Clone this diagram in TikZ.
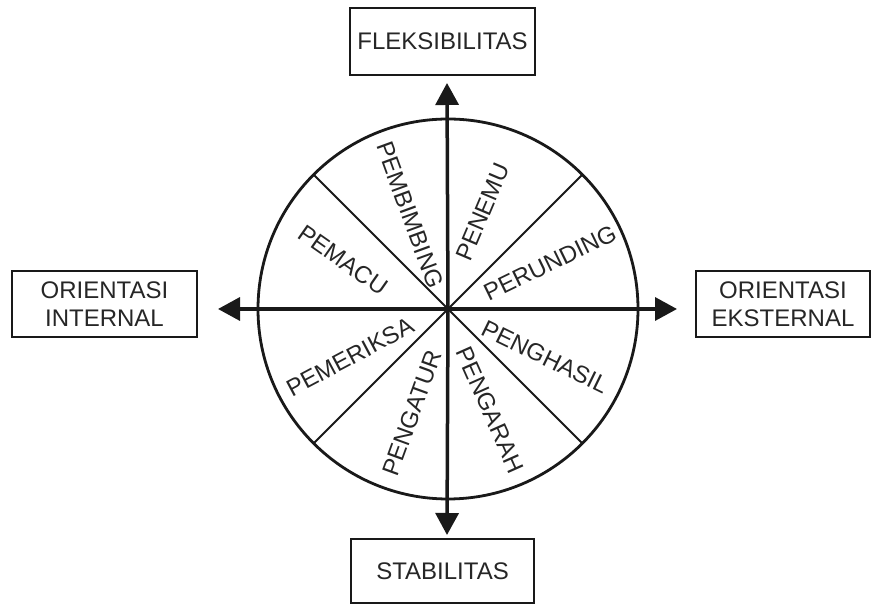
\documentclass[tikz,border=0pt]{standalone}
\usepackage{fontspec}
\setmainfont{Liberation Sans}
\usetikzlibrary{arrows.meta,calc}
\begin{document}
\begin{tikzpicture}[x=1pt,y=1pt,
  box/.style={draw=black!90,line width=2.6pt,align=center,inner sep=0pt,
    font=\fontsize{24}{28}\selectfont,text=black!85},
  axis/.style={line width=3.5pt,draw=black!90,-{Triangle[length=22pt,width=23pt]}},
  rim/.style={line width=2.8pt,draw=black!90},
  spoke/.style={line width=1.8pt,draw=black!90},
  lbl/.style={font=\fontsize{24}{26}\selectfont,text=black!85,inner sep=0pt}]
\useasboundingbox (0,0) rectangle (872,604);
\coordinate (O) at (448,295);
% boxes
\node[box,minimum width=185pt,minimum height=67pt] (flex) at (442.5,562.5) {FLEKSIBILITAS};
\node[box,minimum width=183pt,minimum height=64pt] (stab) at (442.5,33) {STABILITAS};
\node[box,minimum width=185pt,minimum height=66pt] (int) at (104.5,300) {ORIENTASI\\INTERNAL};
\node[box,minimum width=174pt,minimum height=66pt] (ext) at (783,300) {ORIENTASI\\EKSTERNAL};
% circle and spokes
\draw[rim] (O) circle (190);
\foreach \a/\n in {45/ne,135/nw,225/sw,315/se}{
  \coordinate (r\n) at ($(O)+(\a:190)$);
}
\draw[spoke] (O) -- (rne);
\draw[spoke] (O) -- (rnw);
\draw[spoke] (O) -- (rsw);
\draw[spoke] (O) -- (rse);
% axes
\coordinate (tN) at (447,521);
\coordinate (tS) at (447,69);
\coordinate (tW) at (218,295);
\coordinate (tE) at (677,295);
\draw[axis] (O) -- (tN);
\draw[axis] (O) -- (tS);
\draw[axis] (O) -- (tW);
\draw[axis] (O) -- (tE);
% labels
\node[lbl,rotate=-35] (pemacu) at (343,344) {PEMACU};
\node[lbl,rotate=-70] (pembimbing) at (410,389) {PEMBIMBING};
\node[lbl,rotate=67] (penemu) at (483,392) {PENEMU};
\node[lbl,rotate=26] (perunding) at (550,341) {PERUNDING};
\node[lbl,rotate=28] (pemeriksa) at (350,247) {PEMERIKSA};
\node[lbl,rotate=70] (pengatur) at (412,191) {PENGATUR};
\node[lbl,rotate=-66] (pengarah) at (490,194) {PENGARAH};
\node[lbl,rotate=-26] (penghasil) at (545,247) {PENGHASIL};
\end{tikzpicture}
\end{document}
